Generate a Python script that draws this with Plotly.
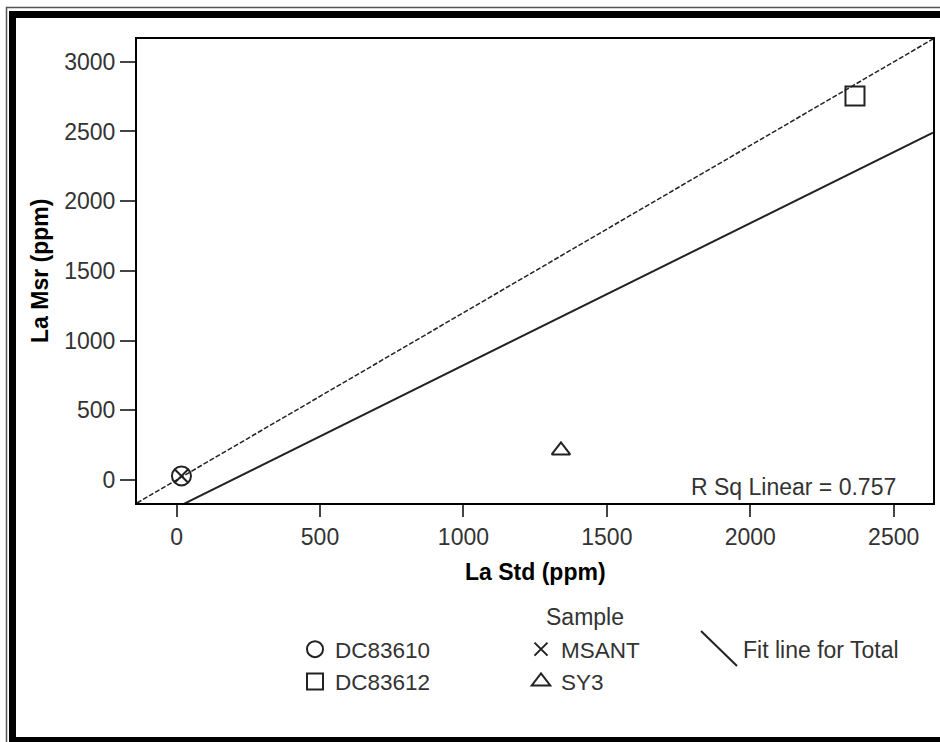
import numpy as np
import plotly.graph_objects as go

# ---- data ----
samples = ["DC83610", "DC83612", "MSANT", "SY3"]
la_std = [17, 2365, 17, 1340]
la_msr = [29, 2754, 29, 212]
symbols = ["circle-open", "square-open", "x-thin-open", "triangle-up-open"]
marker_sizes = [19, 19, 13, 16]
legend_groups = ["legend", "legend", "legend2", "legend2"]
x_range = [-138, 2637]
y_range = [-165, 3163]
x_tickvals = [0, 500, 1000, 1500, 2000, 2500]
y_tickvals = [0, 500, 1000, 1500, 2000, 2500, 3000]
x_title = "La Std (ppm)"
y_title = "La Msr (ppm)"
legend_title = "Sample"
rsq_label = "R Sq Linear = 0.757"
fit_label = "Fit line for Total"

W, H = 940, 742
ML, MR, MT, MB = 137, 7, 39, 239
PW, PH = W - ML - MR, H - MT - MB


def px(xp):
    return (xp - ML) / PW


def py(yp):
    return (H - MB - yp) / PH


FONT = "Liberation Sans, Arial, sans-serif"
INK = "#222222"
TXT = "#333333"
FS = 23

fig = go.Figure()

# fit line (least squares over all points)
slope, intercept = np.polyfit(np.array(la_std, float), np.array(la_msr, float), 1)
fx = np.array(x_range, float)
fig.add_trace(go.Scatter(x=fx, y=slope * fx + intercept, mode="lines",
                         line=dict(color=INK, width=2), showlegend=False,
                         hoverinfo="skip"))

for name, xv, yv, sym, ms, lg in zip(samples, la_std, la_msr, symbols,
                                     marker_sizes, legend_groups):
    fig.add_trace(go.Scatter(
        x=[xv], y=[yv], mode="markers", name=name, legend=lg,
        marker=dict(symbol=sym, size=ms, color=INK,
                    line=dict(color=INK, width=2)),
    ))

shapes = []
# diagonal reference line across the plot area
shapes.append(dict(type="line", xref="paper", yref="paper", x0=0, y0=0, x1=1, y1=1,
                   line=dict(color=INK, width=1.5, dash="5px,2px"), layer="above"))
# legend glyph for fit line
shapes.append(dict(type="line", xref="paper", yref="paper",
                   x0=px(701), y0=py(631), x1=px(737), y1=py(666),
                   line=dict(color=INK, width=2)))
# outer frame
shapes.append(dict(type="rect", xref="paper", yref="paper",
                   x0=px(6.5), y0=py(7.5), x1=px(960), y1=py(760),
                   line=dict(color="#555555", width=1.5)))
shapes.append(dict(type="rect", xref="paper", yref="paper",
                   x0=px(12.5), y0=py(14.5), x1=px(960), y1=py(740.5),
                   line=dict(color="black", width=7)))

annotations = [
    dict(text=rsq_label, xref="paper", yref="paper", x=px(898), y=py(487),
         xanchor="right", yanchor="middle", showarrow=False,
         font=dict(family=FONT, size=FS, color=TXT)),
    dict(text=legend_title, xref="paper", yref="paper", x=px(585), y=py(617),
         xanchor="center", yanchor="middle", showarrow=False,
         font=dict(family=FONT, size=FS, color=TXT)),
    dict(text=fit_label, xref="paper", yref="paper", x=px(741), y=py(650),
         xanchor="left", yanchor="middle", showarrow=False,
         font=dict(family=FONT, size=FS, color=TXT)),
    dict(text="<b>" + x_title + "</b>", xref="paper", yref="paper", x=0.5,
         y=py(572), xanchor="center", yanchor="middle", showarrow=False,
         font=dict(family=FONT, size=FS, color="black")),
    dict(text="<b>" + y_title + "</b>", xref="paper", yref="paper", x=px(40),
         y=0.5, xanchor="center", yanchor="middle", showarrow=False,
         textangle=-90, font=dict(family=FONT, size=FS, color="black")),
]

axis_common = dict(showgrid=False, zeroline=False, showline=True, mirror=True,
                   linecolor="black", linewidth=2, ticks="outside", tickwidth=2,
                   tickcolor="#444444", automargin=False,
                   tickfont=dict(family=FONT, size=FS, color=TXT))

legend_common = dict(xref="container", yref="container", xanchor="left",
                     yanchor="top", bgcolor="rgba(0,0,0,0)",
                     font=dict(family=FONT, size=22.5, color=TXT),
                     orientation="v", tracegroupgap=0)

fig.update_layout(
    width=W, height=H,
    margin=dict(l=ML, r=MR, t=MT, b=MB, autoexpand=False),
    paper_bgcolor="white", plot_bgcolor="white",
    font=dict(family=FONT, size=FS, color=TXT),
    xaxis=dict(range=x_range, tickvals=x_tickvals, ticklen=12, **axis_common),
    yaxis=dict(range=y_range, tickvals=y_tickvals, ticklen=15, **axis_common),
    legend=dict(x=295 / W, y=1 - 628 / H, **legend_common),
    legend2=dict(x=521 / W, y=1 - 628 / H, **legend_common),
    shapes=shapes,
    annotations=annotations,
    showlegend=True,
)

fig.write_html("out.html")
